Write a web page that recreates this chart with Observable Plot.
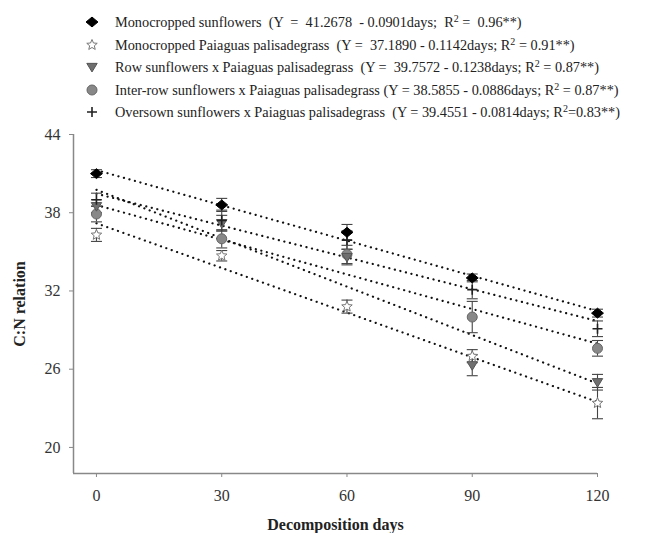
<!DOCTYPE html>
<html>
<head>
<meta charset="utf-8">
<script src="https://cdn.jsdelivr.net/npm/d3@7"></script>
<script src="https://cdn.jsdelivr.net/npm/@observablehq/plot@0.6"></script>
<style>
  html, body { margin: 0; padding: 0; background: #fff; }
  #wrap { width: 646px; height: 533px; position: relative; overflow: hidden; font-family: "Liberation Serif", "Times New Roman", serif; }
  #legend { position: relative; height: 125px; }
  .row { position: absolute; left: 0; height: 20px; display: flex; align-items: center; white-space: pre; font-size: 14.3px; color: #222; }
  .row svg { position: absolute; left: 84px; }
  .row span { position: absolute; left: 115px; white-space: pre; }
  sup { font-size: 10px; vertical-align: 5px; line-height: 0; }
</style>
</head>
<body>
<div id="wrap">
  <div id="legend"></div>
  <div id="chart"></div>
</div>
<script>
// ---- data ----
const days = [0, 30, 60, 90, 120];
const seriesNames = [
  "Monocropped sunflowers",
  "Monocropped Paiaguas palisadegrass",
  "Row sunflowers x Paiaguas palisadegrass",
  "Inter-row sunflowers x Paiaguas palisadegrass",
  "Oversown sunflowers x Paiaguas palisadegrass"
];
const monoSunflowers = [41.0, 38.6, 36.5, 33.0, 30.3];
const monoGrass      = [36.3, 34.7, 30.8, 27.0, 23.4];
const rowSunflowers  = [38.5, 37.2, 34.6, 26.3, 25.0];
const interRow       = [37.9, 36.0, 34.8, 30.0, 27.6];
const oversown       = [39.0, 37.4, 35.9, 32.1, 29.1];

const errMonoSunflowers = [0.3, 0.5, 0.6, 0.3, 0.3];
const errMonoGrass      = [0.5, 0.4, 0.5, 0.5, 1.2];
const errRowSunflowers  = [0.5, 0.6, 0.6, 0.8, 0.6];
const errInterRow       = [0.6, 0.7, 0.7, 1.2, 0.6];
const errOversown       = [0.5, 0.8, 0.7, 0.7, 0.6];

const intercepts = [41.2678, 37.1890, 39.7572, 38.5855, 39.4551];
const slopes     = [-0.0901, -0.1142, -0.1238, -0.0886, -0.0814];
const r2Labels   = ["0.96", "0.91", "0.87", "0.87", "0.83"];
const eqTexts = [
  "  (Y  =  41.2678  - 0.0901days;  R",
  "  (Y =  37.1890 - 0.1142days; R",
  "  (Y =  39.7572 - 0.1238days; R",
  " (Y = 38.5855 - 0.0886days; R",
  "  (Y = 39.4551 - 0.0814days; R"
];
const r2Prefix = [" =  ", " = ", " = ", " = ", "="];

const xTicks = [0, 30, 60, 90, 120];
const yTicks = [20, 26, 32, 38, 44];
const xDomain = [-5.5, 120];
const yDomain = [18, 44];

// ---- build tables ----
const values = [monoSunflowers, monoGrass, rowSunflowers, interRow, oversown];
const errs = [errMonoSunflowers, errMonoGrass, errRowSunflowers, errInterRow, errOversown];
const rows = seriesNames.flatMap((s, i) => days.map((d, j) => ({
  series: s, idx: i, day: d, value: values[i][j], err: errs[i][j]
})));
const lineRows = seriesNames.flatMap((s, i) => [days[0], days[days.length - 1]].map(d => ({
  series: s, day: d, value: intercepts[i] + slopes[i] * d
})));

// ---- custom symbols ----
const rOf = size => Math.sqrt(size / Math.PI);
const capSym = { draw(ctx, size) { const r = rOf(size); ctx.moveTo(-r, 0); ctx.lineTo(r, 0); } };
const diamondSym = { draw(ctx, size) { const r = rOf(size); ctx.moveTo(0, -r * 0.95); ctx.lineTo(r * 1.15, 0); ctx.lineTo(0, r * 0.95); ctx.lineTo(-r * 1.15, 0); ctx.closePath(); } };
const triDownSym = { draw(ctx, size) { const r = rOf(size); ctx.moveTo(-r, -r * 0.7); ctx.lineTo(r, -r * 0.7); ctx.lineTo(0, r * 0.95); ctx.closePath(); } };
const plusSym = { draw(ctx, size) { const r = rOf(size); ctx.moveTo(-r, 0); ctx.lineTo(r, 0); ctx.moveTo(0, -r); ctx.lineTo(0, r); } };
const starSym = { draw(ctx, size) {
  const R = rOf(size), ri = R * 0.45;
  for (let k = 0; k < 10; k++) {
    const a = -Math.PI / 2 + k * Math.PI / 5, rr = k % 2 ? ri : R;
    const px = rr * Math.cos(a), py = rr * Math.sin(a);
    k ? ctx.lineTo(px, py) : ctx.moveTo(px, py);
  }
  ctx.closePath();
} };

const styles = [
  { symbol: diamondSym, fill: "#000", stroke: "#000", r: 5.2, strokeWidth: 1 },
  { symbol: starSym, fill: "#fff", stroke: "#777", r: 5.5, strokeWidth: 1 },
  { symbol: triDownSym, fill: "#6f6f6f", stroke: "#555", r: 5.2, strokeWidth: 1 },
  { symbol: "circle", fill: "#888", stroke: "#666", r: 5, strokeWidth: 1 },
  { symbol: plusSym, fill: "none", stroke: "#222", r: 5, strokeWidth: 1.6 }
];
const drawOrder = [1, 3, 2, 4, 0];

const marks = [
  Plot.ruleX([xDomain[0]], { stroke: "#888", strokeWidth: 1.5 }),
  Plot.ruleY([yDomain[0]], { stroke: "#888", strokeWidth: 1.5 }),
  Plot.line(lineRows, { x: "day", y: "value", z: "series", stroke: "#111", strokeWidth: 2.2, strokeDasharray: "0.1,5.6", strokeLinecap: "round" }),
  Plot.ruleX(rows, { x: "day", y1: d => d.value - d.err, y2: d => d.value + d.err, stroke: "#444", strokeWidth: 1.1 }),
  Plot.dot(rows, { x: "day", y: d => d.value - d.err, symbol: capSym, r: 5.5, stroke: "#444", strokeWidth: 1.1, fill: "none" }),
  Plot.dot(rows, { x: "day", y: d => d.value + d.err, symbol: capSym, r: 5.5, stroke: "#444", strokeWidth: 1.1, fill: "none" }),
  ...drawOrder.map(i => Plot.dot(rows.filter(d => d.idx === i), {
    x: "day", y: "value", symbol: styles[i].symbol, r: styles[i].r,
    fill: styles[i].fill, stroke: styles[i].stroke, strokeWidth: styles[i].strokeWidth
  })),
  Plot.axisX({ ticks: xTicks, tickSize: 4, tickPadding: 12, stroke: "#888", color: "#333", fontSize: 16,
    label: "Decomposition days", labelAnchor: "center", labelOffset: 56, labelArrow: "none" }),
  Plot.axisY({ ticks: yTicks, tickSize: 4, tickPadding: 9, stroke: "#888", color: "#333", fontSize: 16,
    label: "C:N relation", labelAnchor: "center", labelOffset: 60, labelArrow: "none" })
];

const chart = Plot.plot({
  width: 646,
  height: 408,
  marginTop: 9,
  marginBottom: 60,
  marginLeft: 73,
  marginRight: 49,
  style: { fontFamily: "Liberation Serif, Times New Roman, serif", fontSize: "16px", background: "#fff", color: "#333" },
  x: { domain: xDomain, label: "Decomposition days" },
  y: { domain: yDomain, label: "C:N relation" },
  marks
});
d3.select(chart).selectAll("[aria-label='x-axis label'] text, [aria-label='y-axis label'] text")
  .style("font-weight", "bold").style("font-size", "16px").style("fill", "#222");
document.getElementById("chart").appendChild(chart);

// ---- legend ----
const legend = document.getElementById("legend");
const rowY = [12, 35, 57, 80, 102];
seriesNames.forEach((s, i) => {
  const row = document.createElement("div");
  row.className = "row";
  row.style.top = rowY[i] + "px";
  row.style.width = "646px";
  const st = styles[i];
  const sym = typeof st.symbol === "string" ? d3.symbolCircle : st.symbol;
  const size = Math.PI * st.r * st.r;
  const path = d3.symbol(sym, size)();
  const svg = `<svg width="16" height="20" viewBox="-8 -10 16 20"><path d="${path}" fill="${st.fill}" stroke="${st.stroke}" stroke-width="${st.strokeWidth}"/></svg>`;
  row.innerHTML = svg + `<span>${s}${eqTexts[i]}<sup>2</sup>${r2Prefix[i]}${r2Labels[i]}**)</span>`;
  legend.appendChild(row);
});
</script>
</body>
</html>
